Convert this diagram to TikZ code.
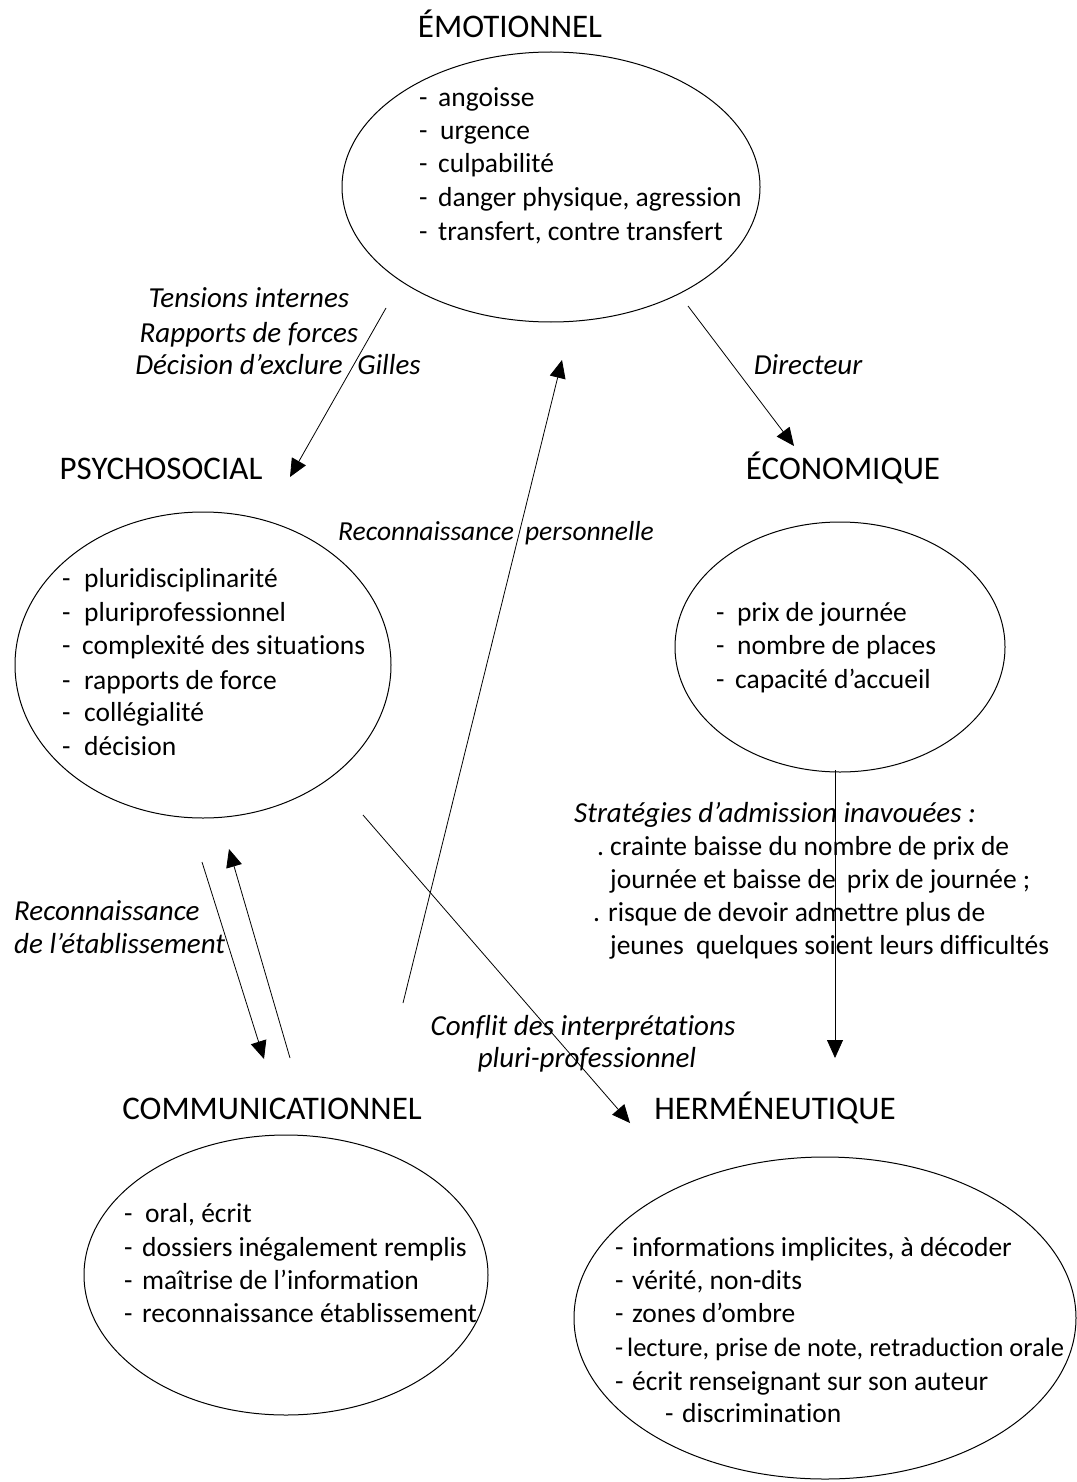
\documentclass[tikz,border=0pt]{standalone}
\usepackage{fontspec}
\setmainfont{Carlito}[Ligatures=NoCommon]
\usetikzlibrary{arrows.meta,shapes.geometric}
% bullet dash followed by a fixed gap before the item text
\newcommand\bul[1]{\makebox[#1pt][l]{-}}
\begin{document}
\begin{tikzpicture}[x=1pt,y=-1pt,
  bubble/.style={draw, ellipse, line width=1pt, inner sep=0pt},
  heading/.style={inner sep=0pt, anchor=base, font=\fontsize{33}{40}\selectfont},
  item/.style={inner sep=0pt, anchor=base west, font=\fontsize{27.5}{33}\selectfont},
  note/.style={inner sep=0pt, anchor=base, font=\fontsize{29}{34}\selectfont\itshape},
  notel/.style={note, anchor=base west},
  link/.style={line width=0.8pt, -{Triangle[length=18pt,width=16pt]}}
]
\useasboundingbox (0,0) rectangle (1076,1482);

% the five poles
\node[bubble, minimum width=418pt, minimum height=270pt] (emo) at (551,187) {};
\node[bubble, minimum width=376pt, minimum height=306pt] (psy) at (203,665) {};
\node[bubble, minimum width=330pt, minimum height=250pt] (eco) at (840,647) {};
\node[bubble, minimum width=404pt, minimum height=280pt] (com) at (286,1275) {};
\node[bubble, minimum width=502pt, minimum height=322pt] (her) at (825,1318) {};

% headings
\node[heading] (hemo) at (510,38) {ÉMOTIONNEL};
\node[heading] (hpsy) at (161,479) {PSYCHOSOCIAL};
\node[heading] (heco) at (843,479) {ÉCONOMIQUE};
\node[heading] (hcom) at (272,1119) {COMMUNICATIONNEL};
\node[heading] (hher) at (775,1119) {HERMÉNEUTIQUE};

% item lists
\node[item] (emo1) at (419,107) {\bul{19}angoisse};
\node[item] (emo2) at (419,140) {\bul{21}urgence};
\node[item] (emo3) at (419,173) {\bul{19}culpabilité};
\node[item] (emo4) at (419,207) {\bul{19}danger physique, agression};
\node[item] (emo5) at (419,240) {\bul{19}transfert, contre transfert};

\node[item] (psy1) at (62,587) {\bul{22}pluridisciplinarité};
\node[item] (psy2) at (62,621) {\bul{22}pluriprofessionnel};
\node[item] (psy3) at (62,654) {\bul{20}complexité des situations};
\node[item] (psy4) at (62,689) {\bul{22}rapports de force};
\node[item] (psy5) at (62,721) {\bul{22}collégialité};
\node[item] (psy6) at (62,755) {\bul{22}décision};

\node[item] (eco1) at (716,621) {\bul{21}prix de journée};
\node[item] (eco2) at (716,654) {\bul{21}nombre de places};
\node[item] (eco3) at (716,688) {\bul{19}capacité d’accueil};

\node[item] (com1) at (124,1222) {\bul{21}oral, écrit};
\node[item] (com2) at (124,1256) {\bul{18}dossiers inégalement remplis};
\node[item] (com3) at (124,1289) {\bul{18}maîtrise de l’information};
\node[item] (com4) at (124,1322) {\bul{18}reconnaissance établissement};

\node[item] (her1) at (615,1256) {\bul{17}informations implicites, à décoder};
\node[item] (her2) at (615,1289) {\bul{17}vérité, non-dits};
\node[item] (her3) at (615,1322) {\bul{17}zones d’ombre};
\node[item, font=\fontsize{26.5}{33}\selectfont] (her4) at (615,1356) {\bul{12}lecture, prise de note, retraduction orale};
\node[item] (her5) at (615,1390) {\bul{17}écrit renseignant sur son auteur};
\node[item] (her6) at (665,1422) {\bul{17}discrimination};

% connector end points
\coordinate (a1s) at (386,308);  \coordinate (a1e) at (290,477);
\coordinate (a2s) at (688,306);  \coordinate (a2e) at (794,446);
\coordinate (a3s) at (403,1003); \coordinate (a3e) at (562,360);
\coordinate (a4s) at (363,815);  \coordinate (a4e) at (630,1123);
\coordinate (a5s) at (835,770);  \coordinate (a5e) at (835,1058);
\coordinate (a6s) at (202,862);  \coordinate (a6e) at (264,1059);
\coordinate (a7s) at (290,1058); \coordinate (a7e) at (229,849);

\draw[link] (a1s) -- (a1e);
\draw[link] (a2s) -- (a2e);
\draw[link] (a3s) -- (a3e);
\draw[link] (a4s) -- (a4e);
\draw[link] (a5s) -- (a5e);
\draw[link] (a6s) -- (a6e);
\draw[link] (a7s) -- (a7e);

% connector labels
\node[note] (l1a) at (249,307) {Tensions internes};
\node[note] (l1b) at (249,342) {Rapports de forces};
\node[note] (l1c) at (278,374) {Décision d’exclure\hspace{8pt} Gilles};
\node[note] (l2) at (808,374) {Directeur};
\node[notel, font=\fontsize{27.5}{34}\selectfont\itshape] (l3) at (338,540) {Reconnaissance\hspace{5pt} personnelle};
\node[notel] (l5a) at (574,822) {Stratégies d’admission inavouées :};
\node[item] (l5b) at (597,855) {\makebox[13pt][l]{.}crainte baisse du nombre de prix de};
\node[item] (l5c) at (610,888) {journée et baisse de\hspace{5pt} prix de journée ;};
\node[item] (l5d) at (593,921) {\makebox[15pt][l]{.}risque de devoir admettre plus de};
\node[item] (l5e) at (610,954) {jeunes\hspace{6pt} quelques soient leurs difficultés};
\node[notel] (l6a) at (14,920) {Reconnaissance};
\node[notel] (l6b) at (14,953) {de l’établissement};
\node[note] (l4a) at (583,1035) {Conflit des interprétations};
\node[note] (l4b) at (587,1067) {pluri-professionnel};
\end{tikzpicture}
\end{document}
